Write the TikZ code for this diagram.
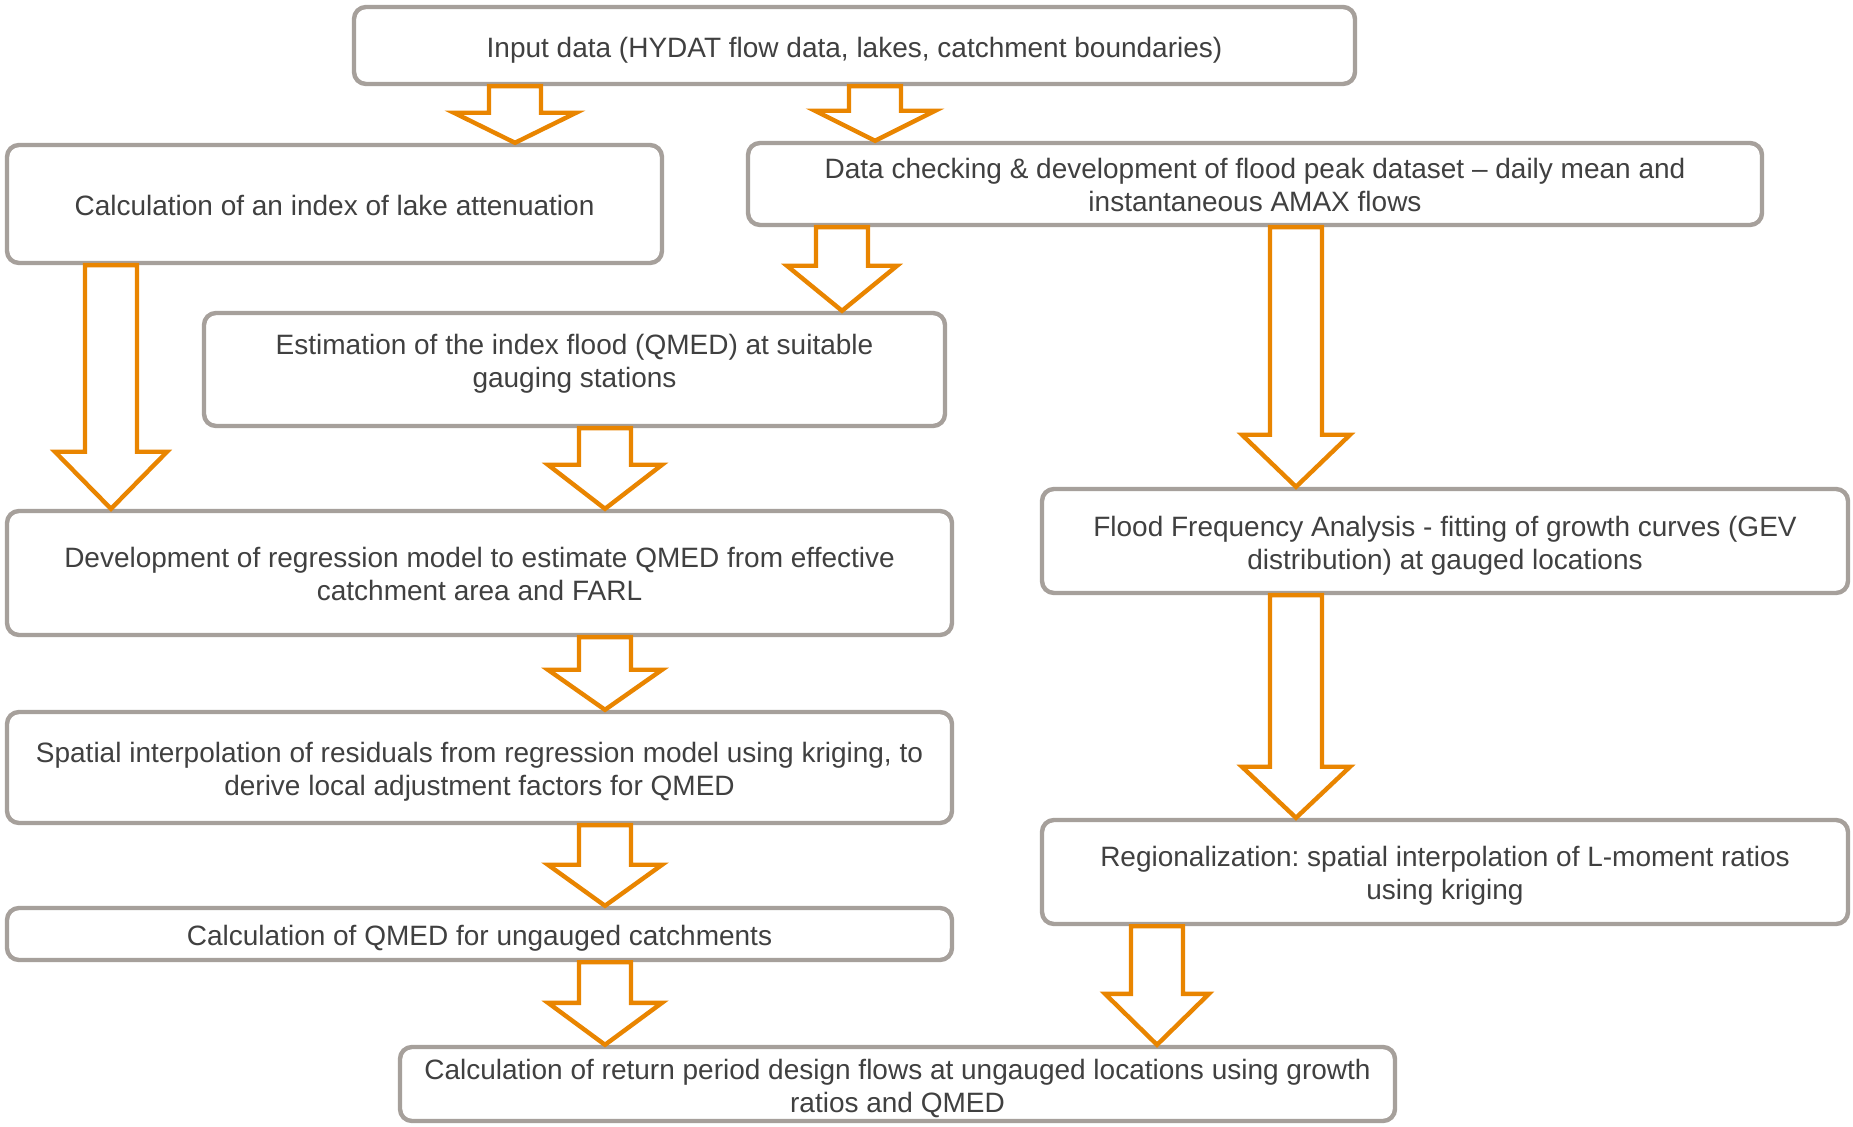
\documentclass[tikz,border=0pt]{standalone}
\usepackage{fontspec}
\setmainfont{Liberation Sans}
\usetikzlibrary{calc}
\frenchspacing
\definecolor{boxgray}{RGB}{166,160,155}
\definecolor{arroworange}{RGB}{233,133,0}
\definecolor{txtgray}{RGB}{64,64,64}
\tikzset{
 flowbox/.style={draw=boxgray, line width=2.2pt, rounded corners=6pt, fill=white, inner sep=0pt},
 boxtext/.style={align=center, text=txtgray, font=\fontsize{14pt}{16.5pt}\selectfont, inner sep=0pt},
 blockarrow/.style={draw=arroworange, fill=white, line width=2.2pt, miter limit=10},
}
% name, x, y, width(pt), height(pt), text y-offset (px), text
\newcommand\flowstep[7]{%
 \node[flowbox, minimum width=#4, minimum height=#5] (#1) at (#2,#3) {};
 \node[boxtext] (#1text) at ($(#1.center)+(0,#6)$) {#7};}
\newcommand\barrow[5]{%
 \draw[blockarrow] let \p1=(#1.south), \p2=(#2.north) in
  ({#3*0.5pt-13pt},\y1) -- ({#3*0.5pt+13pt},\y1) -- ({#3*0.5pt+13pt},{\y2+#4*0.5pt}) -- ({#3*0.5pt+#5*0.5pt},{\y2+#4*0.5pt}) -- ({#3*0.5pt},\y2) -- ({#3*0.5pt-#5*0.5pt},{\y2+#4*0.5pt}) -- ({#3*0.5pt-13pt},{\y2+#4*0.5pt}) -- cycle;}
\begin{document}
\begin{tikzpicture}[x=0.5pt,y=-0.5pt]
\useasboundingbox[fill=white] (0,0) rectangle (1853,1127);
\flowstep{in}{854.5}{45.5}{500.5pt}{38.5pt}{5}{Input data (HYDAT flow data, lakes, catchment boundaries)}
\flowstep{lake}{334.5}{204}{327.5pt}{59pt}{1}{Calculation of an index of lake attenuation}
\flowstep{data}{1255}{184}{507pt}{41pt}{1}{Data checking \& development of flood peak dataset – daily mean and\\instantaneous AMAX flows}
\flowstep{est}{574.5}{369.5}{370.5pt}{56.5pt}{-6}{Estimation of the index flood (QMED) at suitable\\gauging stations}
\flowstep{dev}{479.5}{573}{472.5pt}{62pt}{1}{Development of regression model to estimate QMED from effective\\catchment area and FARL}
\flowstep{ffa}{1445}{541}{403pt}{52pt}{5}{Flood Frequency Analysis - fitting of growth curves (GEV\\distribution) at gauged locations}
\flowstep{spat}{479.5}{767.5}{472.5pt}{55.5pt}{4}{Spatial interpolation of residuals from regression model using kriging, to\\derive local adjustment factors for QMED}
\flowstep{qmed}{479.5}{934}{472.5pt}{26pt}{4}{Calculation of QMED for ungauged catchments}
\flowstep{reg}{1445}{872}{403pt}{52pt}{4}{Regionalization: spatial interpolation of L-moment ratios\\using kriging}
\flowstep{ret}{897.5}{1084}{497.5pt}{37pt}{4}{Calculation of return period design flows at ungauged locations using growth\\ratios and QMED}
\barrow{in}{lake}{515}{30}{61}
\barrow{in}{data}{875}{30}{60}
\barrow{data}{est}{842}{45}{55}
\barrow{lake}{dev}{111}{57}{56}
\barrow{est}{dev}{605}{44}{57}
\barrow{data}{ffa}{1296}{52}{54}
\barrow{dev}{spat}{605}{40}{57}
\barrow{spat}{qmed}{605}{41}{57}
\barrow{qmed}{ret}{605}{42}{57}
\barrow{ffa}{reg}{1296}{51}{54}
\barrow{reg}{ret}{1157}{51}{52}
\end{tikzpicture}
\end{document}
